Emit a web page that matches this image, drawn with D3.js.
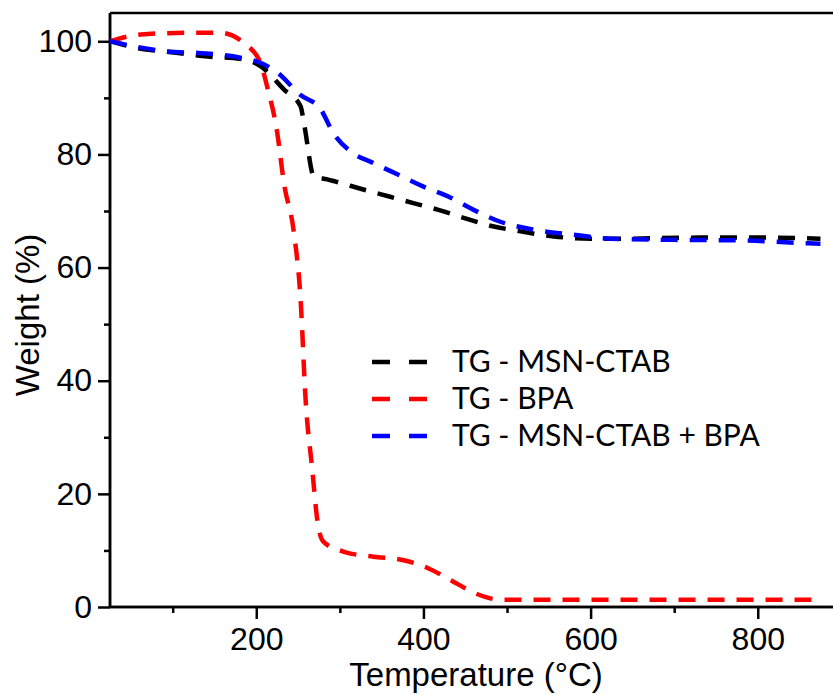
<!DOCTYPE html>
<html>
<head>
<meta charset="utf-8">
<script src="https://cdn.jsdelivr.net/npm/d3@7"></script>
<style>
  body { margin: 0; background: #fff; }
  svg { display: block; }
</style>
</head>
<body>
<div id="chart"></div>
<script>
// TG curves (temperature in °C, weight in %)
const ctabTemp = [25, 58, 102, 142, 181, 205, 233, 253, 257, 269, 285, 295, 328, 358, 388, 418, 448, 480, 516, 556, 600, 636, 731, 811, 875]
const ctabWeight = [100, 98.8, 98.0, 97.3, 96.9, 95.6, 91.5, 88.5, 85.6, 76.1, 75.6, 75.2, 73.8, 72.6, 71.4, 70.2, 68.8, 67.4, 66.4, 65.5, 65.1, 65.1, 65.3, 65.3, 65.1]

const bpaTemp = [25, 62, 118, 157, 185, 205, 213, 225, 233, 245, 253, 259, 267, 273, 280, 304, 340, 372, 405, 432, 464, 492, 600, 700, 800, 870]
const bpaWeight = [100, 101.2, 101.5, 101.5, 99.7, 96.2, 92.0, 83.9, 75.0, 66.2, 54.4, 36.7, 24.3, 15.4, 11.6, 9.8, 8.9, 8.4, 6.9, 4.8, 2.3, 1.3, 1.3, 1.3, 1.3, 1.3]

const mixTemp = [25, 94, 134, 181, 205, 225, 253, 277, 292, 313, 340, 370, 400, 432, 460, 492, 532, 580, 624, 700, 779, 843, 875]
const mixWeight = [100, 98.2, 97.9, 97.1, 96.2, 94.5, 90.5, 88.0, 83.8, 80.5, 78.5, 76.4, 74.3, 72.4, 70.2, 68.1, 66.7, 65.8, 65.1, 64.9, 64.8, 64.4, 64.2]

const seriesNames = ['TG - MSN-CTAB', 'TG - BPA', 'TG - MSN-CTAB + BPA']
const seriesColors = ['#000000', '#ff0000', '#0000ff']

const xMajor = [200, 400, 600, 800]
const xMinor = [100, 300, 500, 700]
const yMajor = [0, 20, 40, 60, 80, 100]
const yMinor = [10, 30, 50, 70, 90]

const width = 833
const height = 695
const plot = { left: 110, right: 833, top: 13, bottom: 607 }

const svg = d3.select('#chart')
  .append('svg')
  .attr('width', width)
  .attr('height', height)

const x = d3.scaleLinear().domain([25, 890]).range([plot.left, plot.right])
const y = d3.scaleLinear().domain([0, 105]).range([plot.bottom, plot.top])

svg.append('clipPath')
  .attr('id', 'plot-clip')
  .append('rect')
  .attr('x', plot.left).attr('y', plot.top)
  .attr('width', plot.right - plot.left).attr('height', plot.bottom - plot.top)

const tickFont = 'Liberation Sans, Arial, sans-serif'

// x axis with minor ticks
const xAxis = svg.append('g').attr('transform', `translate(0,${plot.bottom})`)
xAxis.call(d3.axisBottom(x).tickValues(xMajor).tickSize(12).tickPadding(8).tickFormat(d3.format('d')))
xAxis.append('g').call(d3.axisBottom(x).tickValues(xMinor).tickSize(6).tickFormat(''))
xAxis.selectAll('.domain').attr('stroke-width', 2.5).attr('d', `M${plot.left},0H${plot.right}`)
xAxis.selectAll('.tick line').attr('stroke-width', 2.5)
xAxis.selectAll('text').style('font-family', tickFont).style('font-size', '32px').attr('fill', '#000')

// y axis with minor ticks
const yAxis = svg.append('g').attr('transform', `translate(${plot.left},0)`)
yAxis.call(d3.axisLeft(y).tickValues(yMajor).tickSize(12).tickPadding(6).tickFormat(d3.format('d')))
yAxis.append('g').call(d3.axisLeft(y).tickValues(yMinor).tickSize(6).tickFormat(''))
yAxis.selectAll('.domain').attr('stroke-width', 2.5).attr('d', `M0,${plot.bottom}V${plot.top}`)
yAxis.selectAll('.tick line').attr('stroke-width', 2.5)
yAxis.selectAll('text').style('font-family', tickFont).style('font-size', '32px').attr('fill', '#000')

// top frame line
svg.append('line')
  .attr('x1', plot.left).attr('x2', plot.right)
  .attr('y1', plot.top).attr('y2', plot.top)
  .attr('stroke', '#000').attr('stroke-width', 2.5)

// axis titles
svg.append('text')
  .attr('x', 476).attr('y', 686)
  .attr('text-anchor', 'middle')
  .style('font-family', tickFont).style('font-size', '33px')
  .text('Temperature (°C)')

svg.append('text')
  .attr('transform', 'translate(39,315) rotate(-90)')
  .attr('text-anchor', 'middle')
  .style('font-family', tickFont).style('font-size', '33px')
  .text('Weight (%)')

// curves
const series = [
  ctabTemp.map((t, i) => [t, ctabWeight[i]]),
  bpaTemp.map((t, i) => [t, bpaWeight[i]]),
  mixTemp.map((t, i) => [t, mixWeight[i]])
]

const line = d3.line()
  .x(d => x(d[0]))
  .y(d => y(d[1]))
  .curve(d3.curveMonotoneX)

svg.append('g')
  .attr('clip-path', 'url(#plot-clip)')
  .selectAll('path')
  .data(series)
  .join('path')
  .attr('d', line)
  .attr('fill', 'none')
  .attr('stroke', (d, i) => seriesColors[i])
  .attr('stroke-width', 4.5)
  .attr('stroke-dasharray', '17,12')

// legend
const legend = svg.append('g')
  .selectAll('g')
  .data(seriesNames)
  .join('g')
  .attr('transform', (d, i) => `translate(372,${362 + i * 37})`)

legend.append('line')
  .attr('x1', 0).attr('x2', 56)
  .attr('stroke', (d, i) => seriesColors[i])
  .attr('stroke-width', 4.5)
  .attr('stroke-dasharray', '18,19')

legend.append('text')
  .attr('x', 80)
  .attr('dy', '0.34em')
  .style('font-family', 'Lato, sans-serif')
  .style('font-size', '30px')
  .text(d => d)
</script>
</body>
</html>
